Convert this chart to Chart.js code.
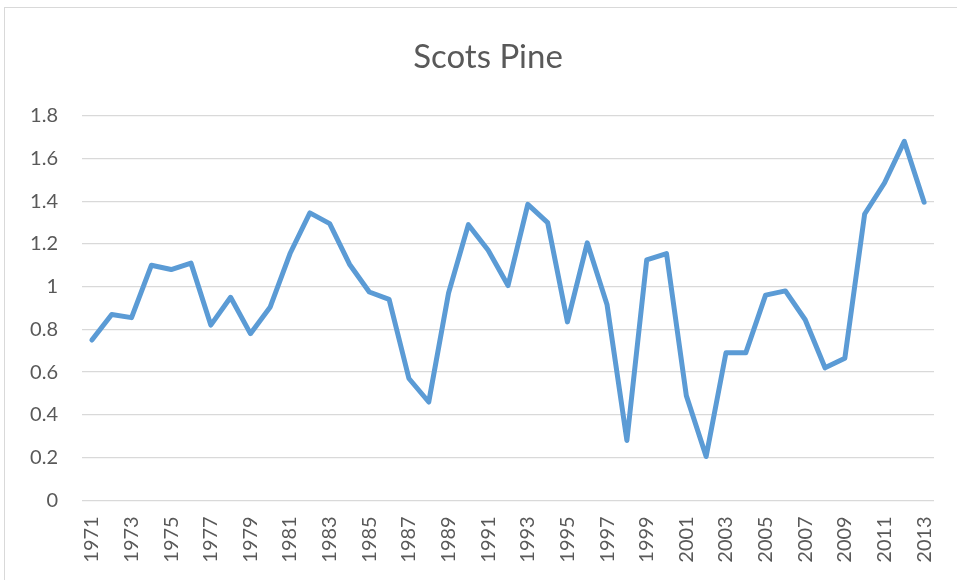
<!DOCTYPE html>
<html>
<head>
<meta charset="utf-8">
<script src="https://cdn.jsdelivr.net/npm/chart.js@4"></script>
<style>
  html, body { margin: 0; padding: 0; background: #ffffff; overflow: hidden; }
  #frame { position: absolute; left: 4px; top: 7px; width: 1000px; height: 1000px; border: 1px solid #d9d9d9; box-sizing: border-box; }
  #c { position: absolute; left: 0; top: 0; }
</style>
</head>
<body>
<div id="frame"></div>
<canvas id="c" width="957" height="580"></canvas>
<script>
const years = ['1971','1972','1973','1974','1975','1976','1977','1978','1979','1980',
  '1981','1982','1983','1984','1985','1986','1987','1988','1989','1990',
  '1991','1992','1993','1994','1995','1996','1997','1998','1999','2000',
  '2001','2002','2003','2004','2005','2006','2007','2008','2009','2010',
  '2011','2012','2013'];
const scotsPine = [0.75, 0.87, 0.855, 1.10, 1.08, 1.11, 0.82, 0.95, 0.78, 0.905,
  1.155, 1.345, 1.295, 1.105, 0.975, 0.94, 0.57, 0.46, 0.97, 1.29,
  1.17, 1.005, 1.385, 1.30, 0.835, 1.205, 0.915, 0.28, 1.125, 1.155,
  0.49, 0.205, 0.69, 0.69, 0.96, 0.98, 0.845, 0.62, 0.665, 1.34,
  1.485, 1.68, 1.395];
const yTicks = [0, 0.2, 0.4, 0.6, 0.8, 1, 1.2, 1.4, 1.6, 1.8];
const titleText = 'Scots Pine';

const textColor = '#595959';
const font = 'Lato, "Open Sans", sans-serif';

new Chart(document.getElementById('c'), {
  type: 'line',
  data: {
    labels: years,
    datasets: [{
      label: titleText,
      data: scotsPine,
      borderColor: '#5B9BD5',
      backgroundColor: '#5B9BD5',
      borderWidth: 5,
      pointRadius: 0,
      pointHoverRadius: 0,
      tension: 0,
      borderJoinStyle: 'round',
      borderCapStyle: 'round',
      fill: false
    }]
  },
  options: {
    responsive: false,
    animation: false,
    events: [],
    layout: { autoPadding: false, padding: { left: 42, right: 23, top: 0, bottom: 0 } },
    plugins: {
      legend: { display: false },
      tooltip: { enabled: false },
      title: {
        display: true,
        text: titleText,
        color: textColor,
        font: { family: font, size: 33, weight: 'normal', lineHeight: 1.2 },
        padding: { top: 38, bottom: 38.1 }
      }
    },
    scales: {
      x: {
        type: 'category',
        offset: true,
        grid: { display: false, drawTicks: false },
        border: { display: false },
        ticks: {
          autoSkip: false,
          maxRotation: 90,
          minRotation: 90,
          padding: 16,
          color: textColor,
          font: { family: font, size: 20 },
          callback: function(value, index) {
            return index % 2 === 0 ? this.getLabelForValue(value) : '';
          }
        },
        afterFit: function(scale) {
          scale.height = 79.7;
          scale.paddingLeft = 0;
          scale.paddingRight = 0;
        }
      },
      y: {
        min: 0,
        max: 1.8,
        afterBuildTicks: function(scale) { scale.ticks = yTicks.map(v => ({ value: v })); },
        grid: { color: '#d9d9d9', lineWidth: 1.3, drawTicks: false },
        border: { display: false },
        ticks: {
          padding: 24,
          color: textColor,
          font: { family: font, size: 20 },
          callback: function(v) { return String(Math.round(v * 10) / 10); }
        },
        afterFit: function(scale) {
          scale.width = 40;
          scale._computeLabelArea = function() { return undefined; };
        }
      }
    }
  }
});
</script>
</body>
</html>
